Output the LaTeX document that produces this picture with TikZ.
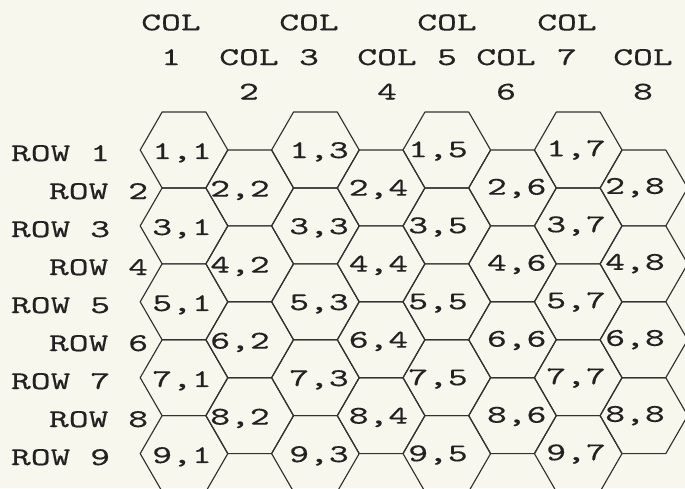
\documentclass[tikz,border=0pt]{standalone}
\usepackage{graphicx}
\usepackage{fontspec}
\newfontfamily\typew{lmmono10-regular.otf}[FakeBold=0.3]
\definecolor{bg}{RGB}{248,247,238}
\definecolor{ink}{RGB}{34,34,34}
\definecolor{gridc}{RGB}{50,50,50}
\tikzset{
  lbl/.style={inner sep=0pt, outer sep=0pt, text=ink, font=\fontsize{25.5}{30}\selectfont\typew},
  hexline/.style={draw=gridc, line width=1.15pt, line join=round},
}
\newcommand\wideTxt[1]{\scalebox{1.48}[1]{#1}}
\begin{document}
\begin{tikzpicture}[x=1pt,y=-1pt]
\fill[bg] (0,0) rectangle (685,488);
\useasboundingbox (0,0) rectangle (685,488);
% hexagon grid
\begin{scope}
\clip (0,0) rectangle (685,488);
\foreach \r in {1,...,9}{
  \foreach \c in {1,...,8}{
    \pgfmathtruncatemacro\parity{mod(\r+\c,2)}
    \ifnum\parity=0
      \pgfmathsetmacro\cx{184+65.7*(\c-1)}
      \pgfmathsetmacro\cy{150+37.95*(\r-1)}
      \draw[hexline] (\cx-43.8,\cy) -- (\cx-21.9,\cy-37.95) -- (\cx+21.9,\cy-37.95)
        -- (\cx+43.8,\cy) -- (\cx+21.9,\cy+37.95) -- (\cx-21.9,\cy+37.95) -- cycle;
    \fi
  }
}
\end{scope}
% column labels
\foreach \c/\x in {1/171,2/249,3/309,4/387,5/447,6/506,7/567,8/643}{
  \pgfmathtruncatemacro\parity{mod(\c,2)}
  \ifnum\parity=1
    \node[lbl, anchor=base] (colA\c) at (\x,30.3) {\wideTxt{COL}};
    \node[lbl, anchor=base] (colN\c) at (\x,65) {\wideTxt{\c}};
  \else
    \node[lbl, anchor=base] (colA\c) at (\x,65) {\wideTxt{COL}};
    \node[lbl, anchor=base] (colN\c) at (\x,99.5) {\wideTxt{\c}};
  \fi
}
% row labels
\foreach \r in {1,...,9}{
  \pgfmathtruncatemacro\parity{mod(\r,2)}
  \pgfmathsetmacro\by{161+38*(\r-1)}
  \ifnum\parity=1
    \node[lbl, anchor=base west] (row\r) at (11,\by) {\wideTxt{ROW \r}};
  \else
    \node[lbl, anchor=base west] (row\r) at (49,\by) {\wideTxt{ROW \r}};
  \fi
}
% cell labels
\foreach \c/\x in {1/182,2/240,3/319,4/378.5,5/438,6/516.7,7/576,8/635}{
  \foreach \r in {1,...,9}{
    \pgfmathtruncatemacro\parity{mod(\r+\c,2)}
    \ifnum\parity=0
      \pgfmathsetmacro\by{159+38*(\r-1)-0.007*(\x-180)}
      \node[lbl, anchor=base] (cell\r\c) at (\x,\by) {\wideTxt{\r,\c}};
    \fi
  }
}
\end{tikzpicture}
\end{document}
